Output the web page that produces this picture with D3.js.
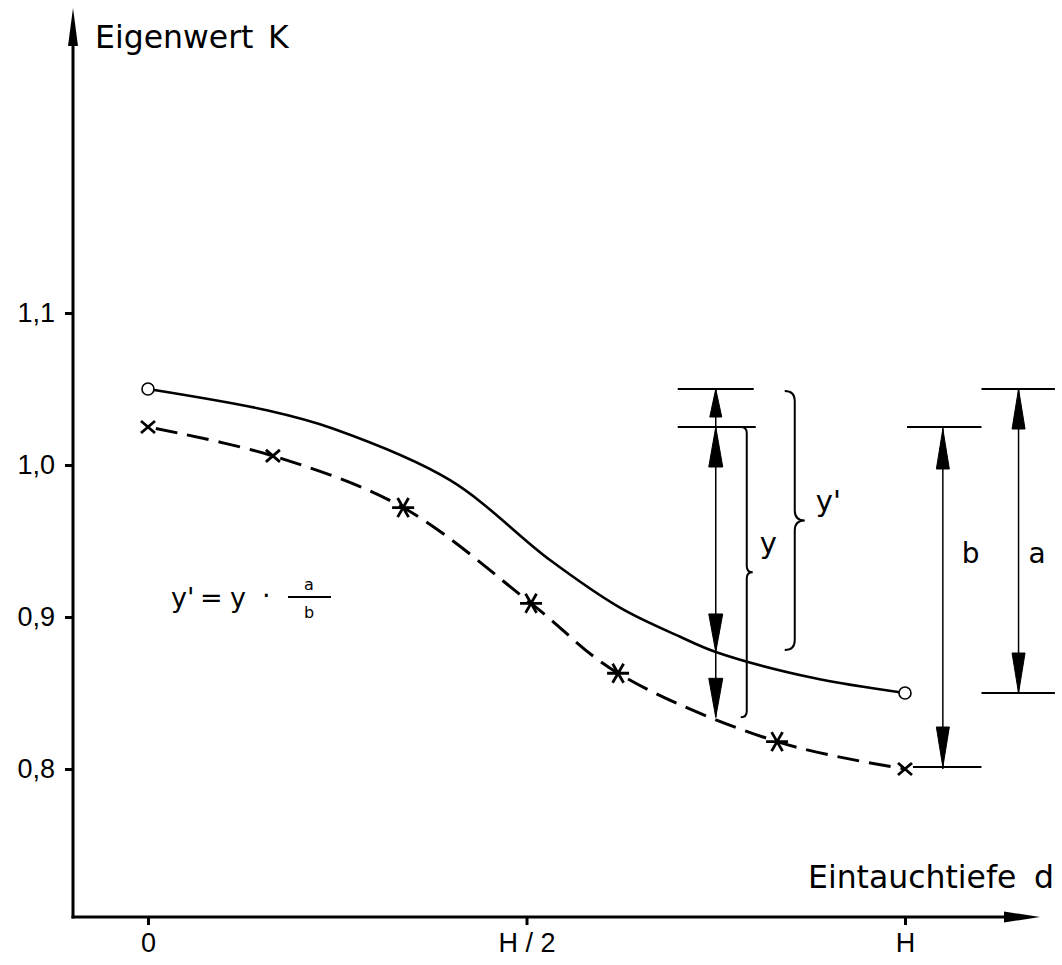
<!DOCTYPE html>
<html>
<head>
<meta charset="utf-8">
<script src="https://cdn.jsdelivr.net/npm/d3@7"></script>
<style>
  html, body { margin: 0; padding: 0; background: #fff; }
  svg { display: block; font-family: "DejaVu Sans", sans-serif; }
</style>
</head>
<body>
<svg id="chart"></svg>
<script>
// eigenvalue K over immersion depth d (in units of H)
const kTicks = [0.8, 0.9, 1.0, 1.1];
const dTicks = [0, 0.5, 1];
const dTickLabels = ["0", "H / 2", "H"];

// solid curve, only the end points carry circles
const solidD = [0, 0.157, 0.244, 0.399, 0.531, 0.624, 0.703, 0.75, 0.878, 1];
const solidK = [1.05, 1.036, 1.024, 0.99, 0.9375, 0.906, 0.887, 0.877, 0.86, 0.85];

// dashed curve, measured points
const dashedD = [0, 0.165, 0.337, 0.506, 0.621, 0.831, 1];
const dashedK = [1.025, 1.006, 0.972, 0.909, 0.863, 0.818, 0.80];
const dashedMark = ["x", "x", "*", "*", "*", "*", "x"];

// where the y / y' dimension is taken
const dimD = 0.75;

const width = 1062, height = 965;
const svg = d3.select("#chart").attr("width", width).attr("height", height);

const x = d3.scaleLinear().domain([0, 1]).range([148, 905]);
const y = d3.scaleLinear().domain([0.8, 1.1]).range([769, 313]);

const axisX = 73, axisY = 917;
const de = d3.formatLocale({ decimal: ",", thousands: ".", grouping: [3], currency: ["", "€"] });
const fmt = de.format(".1f");

// --- arrowheads, filled narrow triangles
function head(g, px, py, dir, len = 38, w = 13) {
    // dir: "up" | "down" | "right"
    let pts;
    if (dir === "up") pts = [[px, py], [px - w / 2, py + len], [px + w / 2, py + len]];
    else if (dir === "down") pts = [[px, py], [px - w / 2, py - len], [px + w / 2, py - len]];
    else pts = [[px, py], [px - len, py - w / 2], [px - len, py + w / 2]];
    g.append("path").attr("d", "M" + pts.join("L") + "Z").attr("fill", "#000");
}

function brace(g, bx, y0, y1, w) {
    const ym = (y0 + y1) / 2, h = w / 2;
    const p = d3.path();
    p.moveTo(bx, y0);
    p.quadraticCurveTo(bx + h, y0, bx + h, y0 + h);
    p.lineTo(bx + h, ym - h);
    p.quadraticCurveTo(bx + h, ym, bx + w, ym);
    p.quadraticCurveTo(bx + h, ym, bx + h, ym + h);
    p.lineTo(bx + h, y1 - h);
    p.quadraticCurveTo(bx + h, y1, bx, y1);
    g.append("path").attr("d", p.toString())
        .attr("fill", "none").attr("stroke", "#000").attr("stroke-width", 2);
}

// --- axes
const yAxis = svg.append("g")
    .attr("transform", `translate(${axisX},0)`)
    .call(d3.axisLeft(y).tickValues(kTicks).tickSize(8).tickPadding(10).tickFormat(fmt));
yAxis.select(".domain").remove();
yAxis.selectAll("line").attr("stroke-width", 3);
yAxis.selectAll("text").attr("font-size", 27).attr("fill", "#000");

const xAxis = svg.append("g")
    .attr("transform", `translate(0,${axisY})`)
    .call(d3.axisBottom(x).tickValues(dTicks).tickSize(8).tickPadding(8)
        .tickFormat((d, i) => dTickLabels[i]));
xAxis.select(".domain").remove();
xAxis.selectAll("line").attr("stroke-width", 3);
xAxis.selectAll("text").attr("font-size", 27).attr("fill", "#000");

svg.append("line").attr("x1", axisX).attr("y1", axisY + 1.5).attr("x2", axisX).attr("y2", 30)
    .attr("stroke", "#000").attr("stroke-width", 3);
head(svg, axisX, 8, "up", 38, 10);
svg.append("line").attr("x1", axisX - 1.5).attr("y1", axisY).attr("x2", 1010).attr("y2", axisY)
    .attr("stroke", "#000").attr("stroke-width", 3);
head(svg, 1040, axisY, "right", 36, 11);

svg.append("text").attr("x", 95).attr("y", 48).attr("font-size", 31.5).text("Eigenwert");
svg.append("text").attr("x", 268).attr("y", 48).attr("font-size", 31.5).text("K");
svg.append("text").attr("x", 808).attr("y", 888).attr("font-size", 31.5).text("Eintauchtiefe");
svg.append("text").attr("x", 1034).attr("y", 888).attr("font-size", 31.5).text("d");

// --- curves
const line = d3.line().x(d => x(d[0])).y(d => y(d[1])).curve(d3.curveCatmullRom.alpha(0.5));
const solid = d3.zip(solidD, solidK);
const dashed = d3.zip(dashedD, dashedK);

svg.append("path").attr("d", line(solid)).attr("fill", "none")
    .attr("stroke", "#000").attr("stroke-width", 2.6);
svg.append("path").attr("d", line(dashed)).attr("fill", "none")
    .attr("stroke", "#000").attr("stroke-width", 3).attr("stroke-dasharray", "22,10")
    .attr("stroke-dashoffset", -8);

[solid[0], solid[solid.length - 1]].forEach(d => {
    svg.append("circle").attr("cx", x(d[0])).attr("cy", y(d[1])).attr("r", 6)
        .attr("fill", "#fff").attr("stroke", "#000").attr("stroke-width", 1.6);
});

svg.selectAll("path.mark").data(dashed).enter().append("path")
    .attr("class", "mark")
    .attr("transform", d => `translate(${x(d[0])},${y(d[1])})`)
    .attr("d", (d, i) => {
        if (dashedMark[i] === "x") return "M-7,-6L7,6M-7,6L7,-6";
        const r = 11, p = [];
        [0, 60, 120].forEach(a => {
            const t = a * Math.PI / 180;
            p.push(`M${-r * Math.cos(t)},${-r * Math.sin(t)}L${r * Math.cos(t)},${r * Math.sin(t)}`);
        });
        return p.join("");
    })
    .attr("fill", "none").attr("stroke", "#000").attr("stroke-width", 2.8);

// --- dimension lines y, y', a, b
const dim = svg.append("g").attr("stroke", "#000");
const kSolid0 = solidK[0], kSolid1 = solidK[solidK.length - 1];
const kDash0 = dashedK[0], kDash1 = dashedK[dashedK.length - 1];
const kSolidAt = solidK[solidD.indexOf(dimD)];
const kDashAt = 0.834; // dashed curve at d = 0.75 H

const xs = x(dimD);
dim.append("line").attr("x1", xs - 38).attr("x2", xs + 38).attr("y1", y(kSolid0)).attr("y2", y(kSolid0)).attr("stroke-width", 2);
dim.append("line").attr("x1", xs - 38).attr("x2", xs + 40).attr("y1", y(kDash0)).attr("y2", y(kDash0)).attr("stroke-width", 2);
dim.append("line").attr("x1", xs).attr("x2", xs).attr("y1", y(kSolid0)).attr("y2", y(kDashAt)).attr("stroke-width", 1.5);
head(dim, xs, y(kSolid0), "up", 28, 12);
head(dim, xs, y(kDash0), "up", 40, 14);
head(dim, xs, y(kSolidAt), "down", 38, 14);
head(dim, xs, y(kDashAt), "down", 39, 14);
brace(svg, xs + 25, y(kDash0), y(kDashAt), 12);
brace(svg, xs + 69, y(kSolid0) + 2, y(kSolidAt) - 2, 20);
svg.append("text").attr("x", xs + 44).attr("y", 553).attr("font-size", 29).text("y");
svg.append("text").attr("x", xs + 100).attr("y", 511).attr("font-size", 29).text("y'");

const xb = x(1.05), xa = x(1.15);
dim.append("line").attr("x1", x(1) + 2).attr("x2", x(1.101)).attr("y1", y(kDash0)).attr("y2", y(kDash0)).attr("stroke-width", 2);
dim.append("line").attr("x1", x(1) + 8).attr("x2", x(1.101)).attr("y1", y(kDash1) - 2).attr("y2", y(kDash1) - 2).attr("stroke-width", 2);
dim.append("line").attr("x1", xb).attr("x2", xb).attr("y1", y(kDash0)).attr("y2", y(kDash1)).attr("stroke-width", 1.5);
head(dim, xb, y(kDash0) + 2, "up", 40, 13);
head(dim, xb, y(kDash1) - 2, "down", 40, 13);
svg.append("text").attr("x", xb + 19).attr("y", 563).attr("font-size", 28).text("b");

dim.append("line").attr("x1", x(1.101)).attr("x2", x(1.198)).attr("y1", y(kSolid0)).attr("y2", y(kSolid0)).attr("stroke-width", 2);
dim.append("line").attr("x1", x(1.101)).attr("x2", x(1.198)).attr("y1", y(kSolid1)).attr("y2", y(kSolid1)).attr("stroke-width", 2);
dim.append("line").attr("x1", xa).attr("x2", xa).attr("y1", y(kSolid0)).attr("y2", y(kSolid1)).attr("stroke-width", 1.5);
head(dim, xa, y(kSolid0), "up", 40, 13);
head(dim, xa, y(kSolid1), "down", 40, 13);
svg.append("text").attr("x", xa + 10).attr("y", 563).attr("font-size", 28).text("a");

// --- formula y' = y · a / b
const f = svg.append("g").attr("font-size", 27);
f.append("text").attr("x", 171).attr("y", 607).text("y'");
f.append("text").attr("x", 200).attr("y", 607).text("=");
f.append("text").attr("x", 230).attr("y", 607).text("y");
f.append("text").attr("x", 262).attr("y", 605).text("·");
f.append("line").attr("x1", 288).attr("x2", 331).attr("y1", 597).attr("y2", 597)
    .attr("stroke", "#000").attr("stroke-width", 2);
f.append("text").attr("x", 309).attr("y", 590).attr("font-size", 16).attr("text-anchor", "middle").text("a");
f.append("text").attr("x", 309).attr("y", 618).attr("font-size", 16).attr("text-anchor", "middle").text("b");
</script>
</body>
</html>
